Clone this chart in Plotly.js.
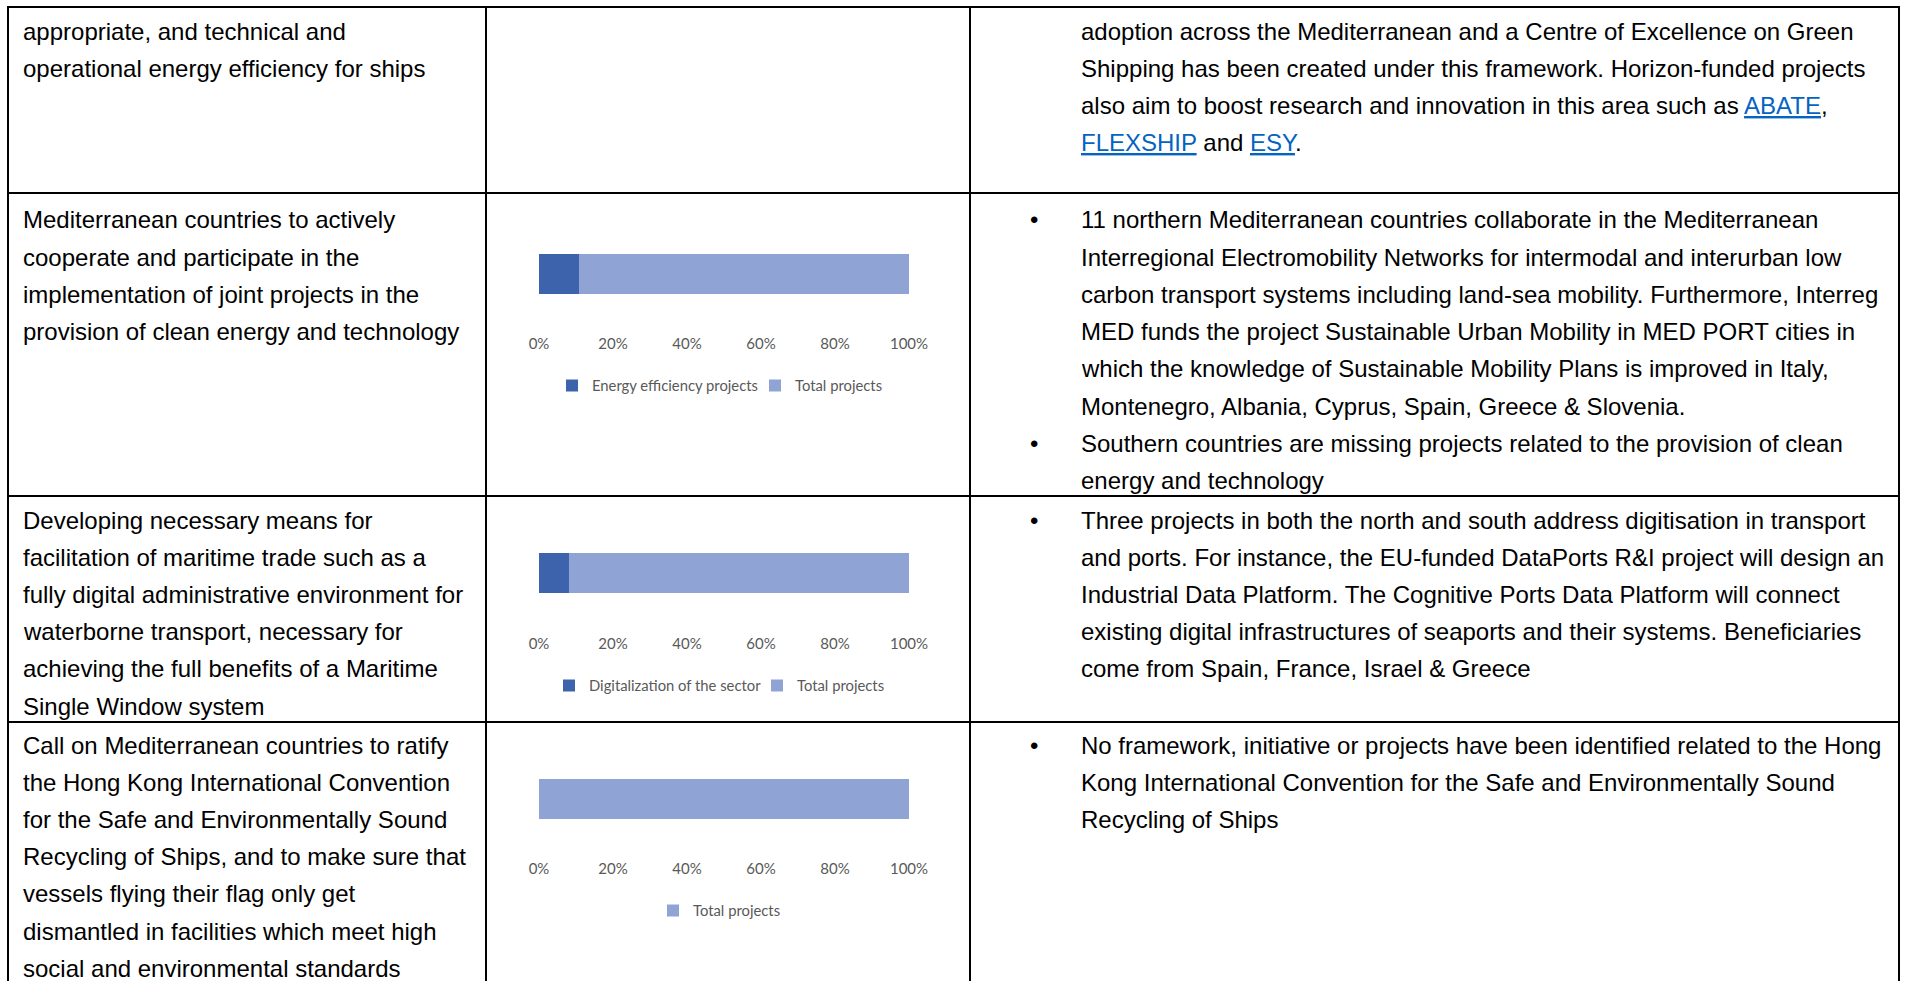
<!DOCTYPE html>
<html><head><meta charset="utf-8">
<script src="https://cdn.plot.ly/plotly-3.0.1.min.js"></script>
<style>html,body{margin:0;padding:0;background:#fff;overflow:hidden}#chart{width:1905px;height:981px}</style>
</head><body><div id="chart"></div>
<script>
// ---------- chart data ----------
const tickValues = [0, 20, 40, 60, 80, 100];
const tickLabels = ['0%', '20%', '40%', '60%', '80%', '100%'];
const chart1Series = ['Energy efficiency projects', 'Total projects'];
const chart1Values = [10.8, 89.2];
const chart2Series = ['Digitalization of the sector', 'Total projects'];
const chart2Values = [8.1, 91.9];
const chart3Series = ['Total projects'];
const chart3Values = [100];
const chart1Colors = ['#3C63AC', '#8FA3D4'];
const chart2Colors = ['#3C63AC', '#8FA3D4'];
const chart3Colors = ['#8FA3D4'];

// ---------- table text ----------
const row0Left = ['appropriate, and technical and', 'operational energy efficiency for ships'];
const row0Right = [
  'adoption across the Mediterranean and a Centre of Excellence on Green',
  'Shipping has been created under this framework. Horizon-funded projects',
  'also aim to boost research and innovation in this area such as LINK[ABATE],',
  'LINK[FLEXSHIP] and LINK[ESY].'
];
const row1Left = ['Mediterranean countries to actively', 'cooperate and participate in the',
  'implementation of joint projects in the', 'provision of clean energy and technology'];
const row1Right = [
  '11 northern Mediterranean countries collaborate in the Mediterranean',
  'Interregional Electromobility Networks for intermodal and interurban low',
  'carbon transport systems including land-sea mobility. Furthermore, Interreg',
  'MED funds the project Sustainable Urban Mobility in MED PORT cities in',
  'which the knowledge of Sustainable Mobility Plans is improved in Italy,',
  'Montenegro, Albania, Cyprus, Spain, Greece &amp; Slovenia.',
  'Southern countries are missing projects related to the provision of clean',
  'energy and technology'
];
const row1Bullets = [0, 6];
const row2Left = ['Developing necessary means for', 'facilitation of maritime trade such as a',
  'fully digital administrative environment for', 'waterborne transport, necessary for',
  'achieving the full benefits of a Maritime', 'Single Window system'];
const row2Right = [
  'Three projects in both the north and south address digitisation in transport',
  'and ports. For instance, the EU-funded DataPorts R&amp;I project will design an',
  'Industrial Data Platform. The Cognitive Ports Data Platform will connect',
  'existing digital infrastructures of seaports and their systems. Beneficiaries',
  'come from Spain, France, Israel &amp; Greece'
];
const row2Bullets = [0];
const row3Left = ['Call on Mediterranean countries to ratify', 'the Hong Kong International Convention',
  'for the Safe and Environmentally Sound', 'Recycling of Ships, and to make sure that',
  'vessels flying their flag only get', 'dismantled in facilities which meet high',
  'social and environmental standards'];
const row3Right = [
  'No framework, initiative or projects have been identified related to the Hong',
  'Kong International Convention for the Safe and Environmentally Sound',
  'Recycling of Ships'
];
const row3Bullets = [0];

// ---------- geometry (px) ----------
const W = 1905, H = 981;
const px = x => x / W;
const py = y => 1 - y / H;
const colX = [8, 486, 970, 1899];
const rowY = [7, 193, 496, 722];
const leftTextX = 21, rightTextX = 1079, bulletX = 1034;
const pitch = 37.2;
const rowFirstLine = [31, 220, 520, 745];
const plotX0 = 539, plotX1 = 909;
const barTop = [254, 553, 779];
const barH = 40;
const labelAxisY = [333, 633, 858];
const legendY = [386, 686, 911];
const legendX = [552, 549, 653];
const legendEntryW = [158, 163, 0];

const textFont = {family: 'Liberation Sans, Arial, sans-serif', size: 24, color: '#000000'};
const chartFont = {family: 'Lato, Carlito, Calibri, sans-serif', size: 15, color: '#595959'};
const legendFont = {family: 'Lato, Carlito, Calibri, sans-serif', size: 14.8, color: '#595959'};

function fmt(s) {
  return s.replace(/LINK\[([^\]]+)\]/g, '<span style="color:#0563C1;text-decoration:underline">$1</span>');
}

const annotations = [];
function addLines(lines, x, firstY, bullets) {
  lines.forEach((t, i) => {
    const y = firstY + i * pitch;
    annotations.push({xref: 'paper', yref: 'paper', x: px(x), y: py(y), xanchor: 'left', yanchor: 'middle',
      text: fmt(t), showarrow: false, align: 'left', font: textFont});
    if (bullets && bullets.includes(i)) {
      annotations.push({xref: 'paper', yref: 'paper', x: px(bulletX), y: py(y), xanchor: 'center', yanchor: 'middle',
        text: '•', showarrow: false, font: textFont});
    }
  });
}
addLines(row0Left, leftTextX, rowFirstLine[0]);
addLines(row0Right, rightTextX, rowFirstLine[0]);
addLines(row1Left, leftTextX, rowFirstLine[1]);
addLines(row1Right, rightTextX, rowFirstLine[1], row1Bullets);
addLines(row2Left, leftTextX, rowFirstLine[2]);
addLines(row2Right, rightTextX, rowFirstLine[2], row2Bullets);
addLines(row3Left, leftTextX, rowFirstLine[3]);
addLines(row3Right, rightTextX, rowFirstLine[3], row3Bullets);

const shapes = [];
rowY.forEach(y => shapes.push({type: 'line', xref: 'paper', yref: 'paper', x0: px(colX[0] - 1), x1: px(colX[3] + 1), y0: py(y), y1: py(y), line: {color: '#000', width: 2}, layer: 'above'}));
colX.forEach(x => shapes.push({type: 'line', xref: 'paper', yref: 'paper', x0: px(x), x1: px(x), y0: py(rowY[0] - 1), y1: 0, line: {color: '#000', width: 2}, layer: 'above'}));

const charts = [
  {series: chart1Series, values: chart1Values, colors: chart1Colors},
  {series: chart2Series, values: chart2Values, colors: chart2Colors},
  {series: chart3Series, values: chart3Values, colors: chart3Colors}
];
const traces = [];
const layout = {
  width: W, height: H, margin: {l: 0, r: 0, t: 0, b: 0},
  paper_bgcolor: '#fff', plot_bgcolor: 'rgba(0,0,0,0)',
  barmode: 'stack', showlegend: true, hovermode: false,
  font: chartFont, annotations, shapes
};
charts.forEach((c, k) => {
  const n = k + 1;
  const xa = 'x' + (n === 1 ? '' : n), ya = 'y' + (n === 1 ? '' : n);
  const lg = 'legend' + (n === 1 ? '' : n);
  c.series.forEach((name, i) => {
    traces.push({type: 'bar', orientation: 'h', x: [c.values[i]], y: [0], name, width: 0.5,
      marker: {color: c.colors[i], line: {width: 0}}, xaxis: xa, yaxis: ya, legend: lg, hoverinfo: 'skip'});
  });
  const yTop = barTop[k] - barH / 2, yBot = barTop[k] + barH + barH / 2;
  layout['xaxis' + (n === 1 ? '' : n)] = {
    domain: [px(plotX0), px(plotX1)], range: [0, 100], anchor: 'free', position: py(labelAxisY[k]),
    tickvals: tickValues, ticktext: tickLabels, showgrid: false, zeroline: false, showline: false,
    ticks: '', tickfont: chartFont, fixedrange: true
  };
  layout['yaxis' + (n === 1 ? '' : n)] = {
    domain: [py(yBot), py(yTop)], range: [-0.5, 0.5], visible: false, anchor: xa, fixedrange: true
  };
  const lgCfg = {orientation: 'h', x: px(legendX[k]), xanchor: 'left', y: py(legendY[k]), yanchor: 'middle',
    font: legendFont, bgcolor: 'rgba(0,0,0,0)', traceorder: 'normal'};
  if (legendEntryW[k]) lgCfg.entrywidth = legendEntryW[k];
  layout[lg] = lgCfg;
});
Plotly.newPlot('chart', traces, layout, {staticPlot: true, displayModeBar: false});
</script></body></html>
